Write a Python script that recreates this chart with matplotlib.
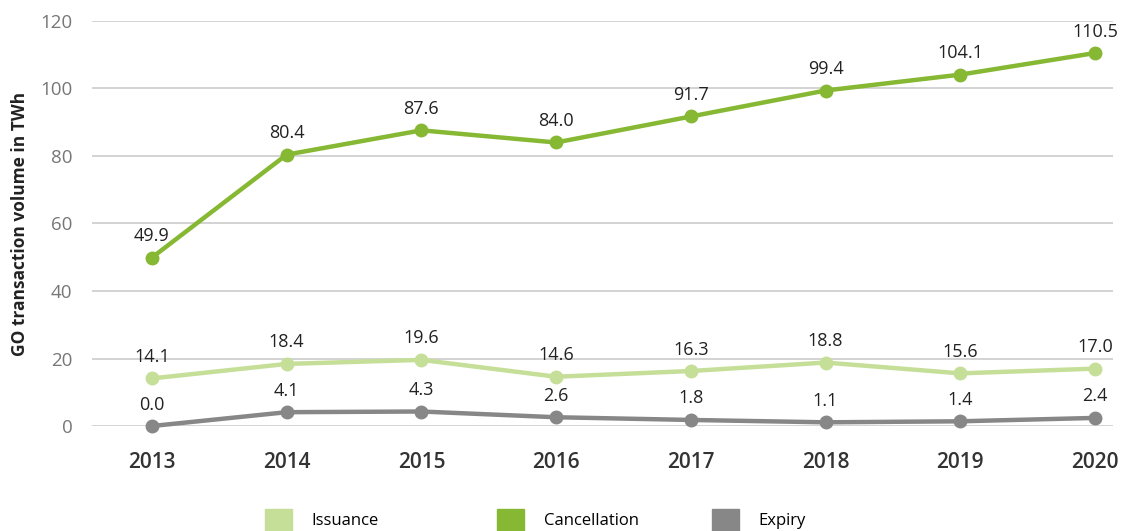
import numpy as np
import matplotlib.pyplot as plt
from matplotlib.patches import Patch

plt.rcParams['font.family'] = ['Open Sans', 'DejaVu Sans']

years = ['2013', '2014', '2015', '2016', '2017', '2018', '2019', '2020']
issuance = [14.1, 18.4, 19.6, 14.6, 16.3, 18.8, 15.6, 17.0]
cancellation = [49.9, 80.4, 87.6, 84.0, 91.7, 99.4, 104.1, 110.5]
expiry = [0.0, 4.1, 4.3, 2.6, 1.8, 1.1, 1.4, 2.4]
series_names = ['Issuance', 'Cancellation', 'Expiry']

c_iss = '#c6df98'
c_can = '#86b833'
c_exp = '#878787'

fig = plt.figure(figsize=(11.3, 5.31), dpi=100)
ax = fig.add_axes([0.0814, 0.1977, 0.9036, 0.7628])

x = np.arange(len(years))
for vals, col in [(issuance, c_iss), (expiry, c_exp), (cancellation, c_can)]:
    ax.plot(x, vals, color=col, lw=3.2, marker='o', ms=9, clip_on=False, zorder=3)
    for xi, v in zip(x, vals):
        ax.annotate(f'{v:.1f}', (xi, v), xytext=(0, 9), textcoords='offset points',
                    ha='center', va='bottom', fontsize=13, color='#222222')

ax.set_xlim(-0.445, 7.134)
ax.set_ylim(0, 120)
ax.set_yticks(range(0, 121, 20))
ax.set_xticks(x)
ax.set_xticklabels(years, fontsize=15, color='#333333', fontweight='semibold')
ax.tick_params(axis='y', labelsize=13.5, labelcolor='#777777', length=0, pad=14)
ax.tick_params(axis='x', length=0, pad=19)
ax.grid(axis='y', color='#cccccc', lw=1.2)
ax.set_axisbelow(True)
for s in ax.spines.values():
    s.set_visible(False)
ax.set_ylabel('GO transaction volume in TWh', fontsize=12.5, fontweight='bold',
              color='#222222', labelpad=8)

# legend entries placed one by one like the original
for name, col, lx in zip(series_names, [c_iss, c_can, c_exp], [0.2345, 0.44, 0.630]):
    fig.legend(handles=[Patch(color=col, label=name)], loc='center left',
               bbox_to_anchor=(lx, 0.021), frameon=False, fontsize=12,
               handlelength=1.6, handleheight=1.6, handletextpad=1.2,
               borderpad=0, borderaxespad=0)

fig.savefig('out.png', dpi=100)
